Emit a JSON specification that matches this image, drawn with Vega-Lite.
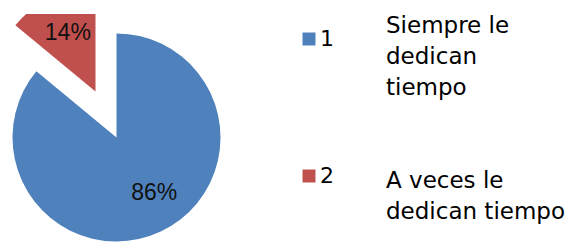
{
  "$schema": "https://vega.github.io/schema/vega-lite/v6.json",
  "width": 233,
  "height": 247,
  "autosize": {"type": "none"},
  "padding": {"left": 0, "top": 14, "right": 343, "bottom": 0},
  "background": "white",
  "config": {"view": {"stroke": null}, "style": {"guide-label": {"lineHeight": 31}}},
  "data": {
    "values": [
      {"key": "1", "value": 86, "desc": "Siempre  le|dedican|tiempo", "label": "86%"},
      {"key": "2", "value": 14, "desc": "A veces le|dedican tiempo", "label": "14%"}
    ]
  },
  "encoding": {
    "theta": {"field": "value", "type": "quantitative", "stack": true, "scale": {"domain": [0, 100]}},
    "order": {"field": "key", "type": "ordinal"}
  },
  "layer": [
    {
      "mark": {"type": "arc", "radius": 104},
      "encoding": {
        "color": {
          "field": "key", "type": "nominal",
          "scale": {"domain": ["1", "2"], "range": ["#4F81BD", "#C0504D"]},
          "legend": {
            "title": null, "orient": "none", "legendX": 298, "legendY": 14,
            "symbolType": "square", "symbolSize": 169, "symbolStrokeWidth": 0,
            "labelFont": "DejaVu Sans", "labelFontSize": 22, "labelColor": "#000",
            "labelOffset": 0, "rowPadding": 115, "padding": 0
          }
        },
        "opacity": {
          "field": "desc", "type": "ordinal",
          "scale": {"domain": ["Siempre  le|dedican|tiempo", "A veces le|dedican tiempo"], "range": [1, 1]},
          "legend": {
            "title": null, "orient": "none", "legendX": 363, "legendY": -11,
            "symbolOpacity": 0, "symbolSize": 1, "symbolStrokeWidth": 0,
            "symbolFillColor": "transparent", "symbolStrokeColor": "transparent", "labelOffset": 0,
            "labelFont": "DejaVu Sans", "labelFontSize": 23, "labelColor": "#000",
            "labelBaseline": "top", "labelExpr": "split(datum.label, '|')",
            "rowPadding": 58, "padding": 0, "labelLimit": 0,
            "encode": {"labels": {"update": {"lineHeight": {"value": 31}}}}
          }
        },
        "fillOpacity": {"condition": {"test": "datum.key === '1'", "value": 1}, "value": 0}
      }
    },
    {
      "mark": {"type": "arc", "radius": 104, "xOffset": -21, "yOffset": -46, "clip": true},
      "encoding": {
        "color": {"field": "key", "type": "nominal"},
        "fillOpacity": {"condition": {"test": "datum.key === '2'", "value": 1}, "value": 0}
      }
    },
    {
      "mark": {"type": "text", "radius": 65, "font": "Liberation Sans", "fontSize": 23, "color": "#111", "dx": 10, "dy": -3},
      "encoding": {
        "text": {"field": "label"},
        "opacity": {"condition": {"test": "datum.key === '1'", "value": 1}, "value": 0}
      }
    },
    {
      "mark": {"type": "text", "radius": 65, "font": "Liberation Sans", "fontSize": 23, "color": "#111", "xOffset": -21, "yOffset": -46},
      "encoding": {
        "text": {"field": "label"},
        "opacity": {"condition": {"test": "datum.key === '2'", "value": 1}, "value": 0}
      }
    }
  ]
}
